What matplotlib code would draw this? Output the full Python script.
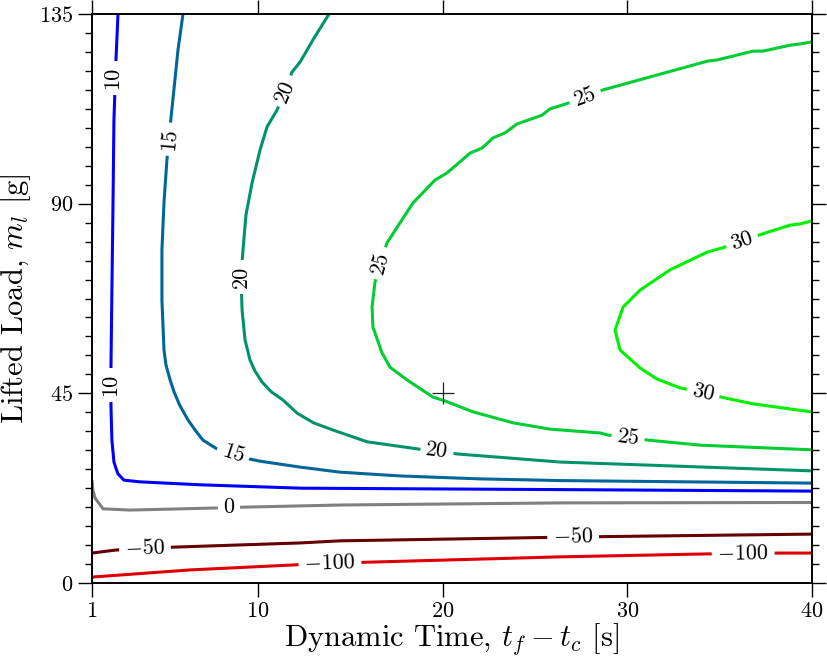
import matplotlib
matplotlib.use("Agg")
import matplotlib.pyplot as plt
import numpy as np

plt.rcParams['font.family'] = 'serif'
plt.rcParams['font.serif'] = ['cmr10', 'DejaVu Serif']
plt.rcParams['mathtext.fontset'] = 'cm'
plt.rcParams['axes.unicode_minus'] = False
plt.rcParams['axes.formatter.use_mathtext'] = True

# Contour lines (dynamic time [s], lifted load [g])
levels = [-100, -50, 0, 10, 15, 20, 25, 30]
levelColors = ['#dd0000', '#640000', '#808080', '#0000ff', '#00669a', '#00936b', '#00cc33', '#00f000']

tM100 = [1.0, 6.31, 12.00, 13.89, 15.68, 26.35, 34.32, 36.27, 38.16, 40.0]
mM100 = [1.4, 3.1, 4.3, 4.7, 4.9, 6.2, 6.9, 6.9, 7.1, 7.1]

tM50 = [1.0, 2.25, 3.87, 5.39, 12.27, 14.43, 25.54, 28.63, 40.0]
mM50 = [7.1, 7.8, 8.3, 8.5, 9.5, 10.0, 10.8, 11.0, 11.6]

t0 = [1.0, 1.05, 1.16, 1.60, 3.06, 7.77, 9.29, 14.43, 26.35, 40.0]
m0 = [24.4, 22.1, 20.2, 17.6, 17.3, 17.8, 18.0, 18.5, 19.0, 19.1]

t10 = [2.41, 2.30, 2.19, 2.14, 2.08, 2.03, 2.03, 2.08, 2.19, 2.30, 2.41, 2.73, 3.60, 6.85, 12.27, 20.39, 28.52, 40.0]
m10 = [135.0, 124.1, 109.8, 90.2, 69.5, 51.5, 41.8, 33.9, 28.7, 27.2, 25.9, 24.4, 24.0, 23.3, 22.5, 22.3, 22.1, 21.8]

t15 = [5.93, 5.66, 5.28, 5.06, 4.90, 4.79, 4.79, 4.90, 5.01, 5.23, 5.45, 5.75, 6.20, 6.60, 7.01, 7.70, 8.48, 10.10,
       12.27, 14.43, 17.68, 22.02, 26.35, 40.0]
m15 = [135.0, 126.5, 110.3, 100.4, 90.2, 79.0, 67.1, 55.3, 51.7, 48.2, 45.3, 42.2, 38.7, 36.2, 33.9, 32.0, 30.4, 28.9,
       27.5, 26.3, 25.4, 24.7, 24.3, 23.7]

t20 = [13.84, 13.03, 12.27, 11.83, 11.46, 11.02, 10.48, 10.10, 9.67, 9.34, 9.18, 9.07, 9.13, 9.29, 9.56, 9.83, 10.21,
       10.70, 11.35, 12.11, 13.00, 14.05, 15.90, 18.66, 20.83, 26.35, 40.0]
m20 = [135.0, 129.3, 123.6, 121.2, 116.7, 112.2, 108.2, 102.7, 94.9, 87.3, 79.0, 72.6, 64.8, 57.7, 52.9, 50.3, 47.7,
       45.4, 43.4, 40.3, 38.0, 36.3, 33.5, 31.8, 30.6, 28.7, 26.6]

t25 = [40.0, 33.94, 31.12, 30.04, 28.95, 28.52, 25.81, 23.81, 21.64, 20.12, 19.47, 18.06, 17.14, 16.71, 16.22, 16.17,
       16.33, 16.60, 16.98, 18.39, 19.58, 20.23, 21.48, 22.13, 22.72, 23.37, 24.02, 25.38, 25.81, 26.62, 27.71, 28.68,
       34.32, 34.86, 36.81, 37.35, 38.81, 39.35, 40.0]
m25 = [31.6, 32.7, 33.9, 34.6, 35.1, 35.6, 36.5, 38.0, 40.6, 43.2, 44.1, 48.2, 51.2, 54.6, 60.7, 65.5,
       71.4, 75.9, 80.7, 90.2, 95.6, 97.3, 102.0, 103.2, 105.6, 106.8, 108.9, 111.0, 112.5, 113.6, 115.3, 117.0,
       123.8, 124.1, 126.2, 126.2, 127.6, 127.9, 128.4]

t30 = [40.0, 38.81, 36.81, 35.29, 34.10, 32.85, 31.60, 30.69, 29.60, 29.33, 29.77, 30.69, 32.31, 34.32, 35.13, 36.21,
       37.30, 38.81, 39.35, 40.0]
m30 = [40.6, 41.3, 42.5, 43.9, 45.1, 46.3, 48.4, 51.0, 55.3, 60.0, 65.5, 69.5, 74.3, 78.5, 79.5, 81.1,
       82.8, 84.9, 85.2, 85.9]

lines = [(tM100, mM100), (tM50, mM50), (t0, m0), (t10, m10), (t15, m15), (t20, m20), (t25, m25), (t30, m30)]

# inline labels: text, position, angle on screen
labelText = [r'$-100$', r'$-100$', r'$-50$', r'$-50$', '0', '10', '10', '15', '15',
             '20', '20', '20', '25', '25', '25', '30', '30']
labelT = [13.89, 36.27, 3.87, 27.06, 8.42, 2.12, 2.00, 5.17, 8.64, 11.46, 9.07, 19.69, 27.71, 16.60, 30.04, 36.21, 34.10]
labelM = [4.7, 6.9, 8.3, 10.9, 17.9, 119.8, 47.0, 105.3, 30.6, 116.7, 72.6, 31.3, 115.3, 75.9, 34.6, 81.1, 45.1]
labelRot = [2, 1, 2, 1, 0.5, 90, 90, 85, -18, 67, 90, -7, 20, 75, -7, 19, -12]

# design point
ptT = [20]
ptM = [45]

fig = plt.figure(figsize=(8.27, 6.58), dpi=100)
ax = fig.add_axes([0.1112, 0.114, 0.8707, 0.8647])

for (tt, mm), c in zip(lines, levelColors):
    ax.plot(tt, mm, color=c, lw=2.2, solid_capstyle='butt', solid_joinstyle='round', zorder=2)

for s, x, y, r in zip(labelText, labelT, labelM, labelRot):
    ax.text(x, y, s, fontsize=16, rotation=r, rotation_mode='anchor', ha='center', va='center',
            bbox=dict(boxstyle='square,pad=0.25', fc='white', ec='none'), zorder=3)

ax.plot(ptT, ptM, marker='+', color='#222222', ms=16, mew=0.9, ls='none', zorder=4)

ax.set_xlim(1, 40)
ax.set_ylim(0, 135)
ax.set_xticks([1, 10, 20, 30, 40])
ax.set_yticks([0, 45, 90, 135])
ax.set_yticks(np.arange(0, 135.1, 4.5), minor=True)
ax.tick_params(which='both', direction='out', top=True, right=True, labelsize=16, width=1.0)
ax.tick_params(which='major', length=10)
ax.tick_params(which='minor', length=5)
for sp in ax.spines.values():
    sp.set_linewidth(1.4)

ax.set_xlabel(r'Dynamic Time, $t_f - t_c$ [s]', fontsize=22, labelpad=0)
ax.set_ylabel(r'Lifted Load, $m_l$ [g]', fontsize=22, labelpad=4)

fig.savefig('out.png', dpi=100)
